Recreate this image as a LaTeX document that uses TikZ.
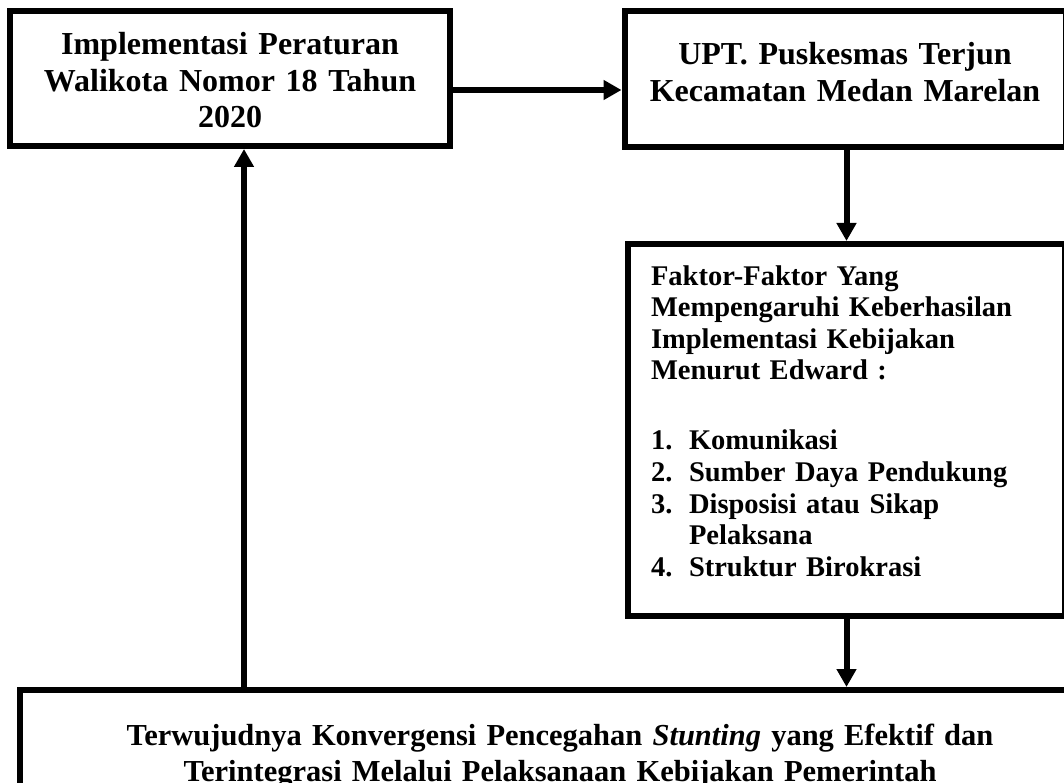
\documentclass[tikz,border=0pt]{standalone}
\usepackage{fontspec}
\setmainfont{Liberation Serif}
\usepackage{tikz}
\usetikzlibrary{arrows.meta}

\tikzset{
  kotak/.style={draw, rectangle, line width=6pt, align=center},
  panah/.style={line width=6pt, -{Triangle[length=18pt,width=19pt]}},
  besar/.style={font=\bfseries\fontsize{32}{36.5}\selectfont},
  kecil/.style={font=\bfseries\fontsize{28.5}{31.6}\selectfont},
  bawah/.style={font=\bfseries\fontsize{30.5}{36.5}\selectfont}
}
\newcommand{\butir}[1]{\makebox[38pt][l]{#1}}

\begin{document}
\begin{tikzpicture}[x=1pt,y=-1pt]
\useasboundingbox (0,0) rectangle (1064,783);
\clip (0,0) rectangle (1064,783);
\node[kotak, besar, minimum width=440pt, minimum height=135pt, text width=400pt, text height=25pt, text depth=72pt] (perda) at (230,78.5) {Implementasi Peraturan\\Walikota Nomor 18 Tahun\\2020};
\node[kotak, besar, minimum width=441pt, minimum height=136pt, text width=400pt, text height=25pt, text depth=53pt] (upt) at (845,79) {UPT. Puskesmas Terjun\\Kecamatan Medan Marelan};
\node[kotak, kecil, align=left, minimum width=437pt, minimum height=372pt, text width=391pt, text height=20pt, text depth=310pt] (faktor) at (846.5,430) {Faktor-Faktor Yang\\Mempengaruhi Keberhasilan\\Implementasi Kebijakan\\Menurut Edward :\\[38.4pt]\butir{1.}Komunikasi\\\butir{2.}Sumber Daya Pendukung\\\butir{3.}Disposisi atau Sikap\\\butir{}Pelaksana\\\butir{4.}Struktur Birokrasi};
\node[kotak, bawah, minimum width=1080pt, minimum height=180pt, text width=1000pt, text height=24pt, text depth=94pt] (hasil) at (560,780) {Terwujudnya Konvergensi Pencegahan \textit{Stunting} yang Efektif dan\\Terintegrasi Melalui Pelaksanaan Kebijakan Pemerintah};
\coordinate (kanan) at ([yshift=-11.5pt]perda.east);
\draw[panah] (kanan) -- (kanan -| upt.west);
\draw[panah] (faktor.north |- upt.south) -- (faktor.north);
\draw[panah] (faktor.south) -- (faktor.south |- hasil.north);
\coordinate (naik) at ([xshift=14pt]perda.south);
\draw[panah] (naik |- hasil.north) -- (naik);
\end{tikzpicture}
\end{document}
